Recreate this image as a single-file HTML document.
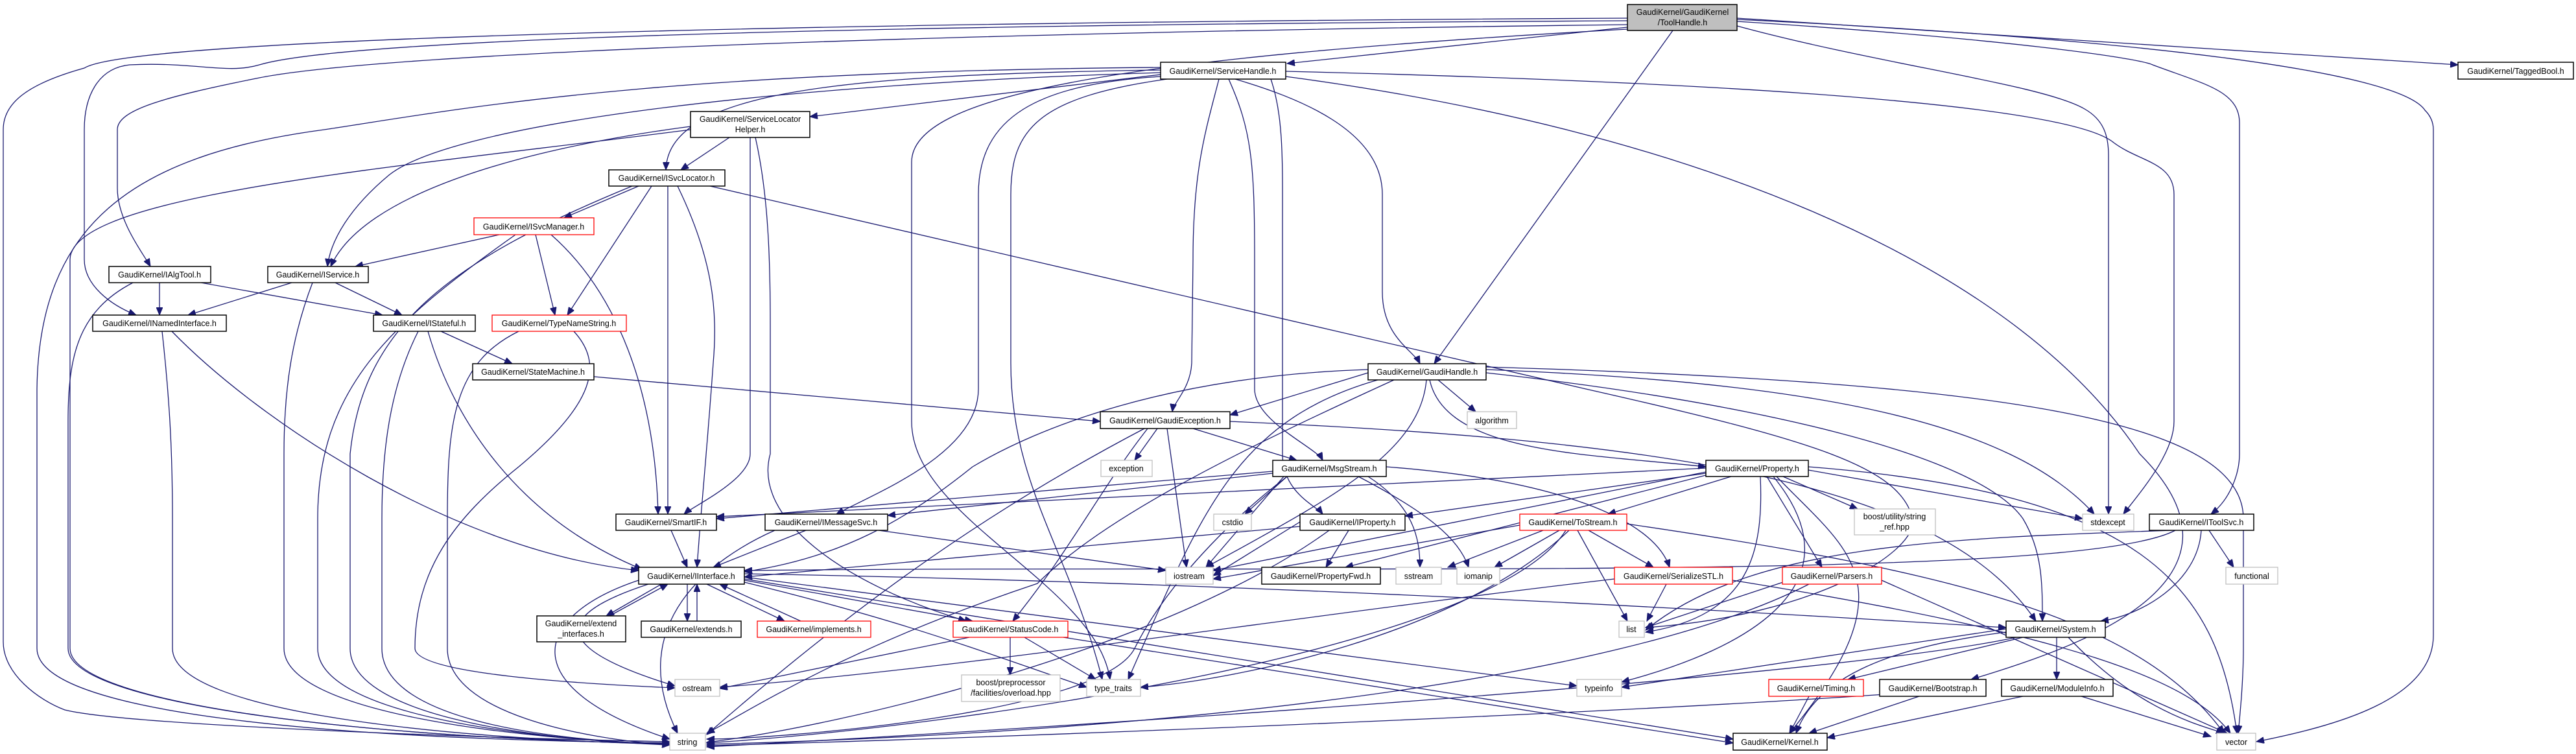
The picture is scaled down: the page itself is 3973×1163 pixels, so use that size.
<!DOCTYPE html>
<html><head><meta charset="utf-8"><style>
html,body{margin:0;padding:0;background:#fff;}
svg{display:block;}
text{font-family:"Liberation Sans",sans-serif;font-size:12.5px;fill:#000;text-anchor:middle;}
.e{fill:none;stroke:#191970;stroke-width:1.3;marker-end:url(#a);}
.b{fill:#fff;stroke:#000;stroke-width:1.5;}
.g{fill:#fff;stroke:#bfbfbf;stroke-width:1.3;}
.r{fill:#fff;stroke:#ff0000;stroke-width:1.3;}
</style></head><body>
<svg width="3973" height="1163" viewBox="0 0 3973 1163" xmlns="http://www.w3.org/2000/svg">
<defs><marker id="a" markerUnits="userSpaceOnUse" markerWidth="13" markerHeight="10" refX="12" refY="5" orient="auto"><path d="M0,0 L12,5 L0,10 z" fill="#191970" stroke="#191970"/></marker></defs>
<g>
<!-- ToolHandle -->
<path class="e" d="M2510,28 C1200,35 200,60 130,105 C40,130 5,160 5,200 L5,990 C5,1040 60,1080 100,1095 C200,1120 800,1140 1033,1144"/>
<path class="e" d="M2510,32 C1000,40 500,70 400,100 C350,115 300,95 200,100 C150,105 130,150 130,200 L130,400 C130,440 170,470 210,486"/>
<path class="e" d="M2510,38 C1500,50 600,80 400,120 C250,150 181,170 181,200 L181,290 C181,340 220,390 232,411"/>
<path class="e" d="M2510,42 L1985,98"/>
<path class="e" d="M2580,47 L2212,561"/>
<path class="e" d="M2679,28 L3791,100"/>
<path class="e" d="M2510,45 C1700,90 1406,150 1406,250 L1406,650 C1406,800 1690,900 1712,1048"/>
<path class="e" d="M2679,30 C3300,60 3700,110 3740,170 C3750,180 3753,190 3753,200 L3753,980 C3753,1080 3600,1120 3480,1144"/>
<path class="e" d="M2679,40 C2900,100 3150,130 3215,168 C3245,185 3252,210 3252,240 L3252,793"/>
<path class="e" d="M2679,33 C3100,60 3300,90 3320,100 C3400,130 3454,140 3454,190 L3454,700 C3454,730 3440,770 3410,793"/>
<!-- ServiceHandle -->
<path class="e" d="M1790,115 L1249,180"/>
<path class="e" d="M1790,108 C1300,115 1030,140 1027,262"/>
<path class="e" d="M1790,112 C1200,130 700,190 600,270 C540,320 510,370 505,411"/>
<path class="e" d="M1790,118 C1600,130 1509,180 1509,300 L1509,600 C1509,700 1350,760 1290,793"/>
<path class="e" d="M1880,122 C1860,200 1840,260 1840,400 L1838,560 C1836,600 1810,620 1808,635"/>
<path class="e" d="M1895,122 C1930,200 1935,250 1935,400 L1935,600 C1935,650 2030,690 2040,710"/>
<path class="e" d="M1905,122 C2000,150 2132,200 2132,300 L2132,450 C2132,520 2180,540 2190,561"/>
<path class="e" d="M1960,122 C1980,180 1978,250 1978,350 L1978,700 C1978,760 2030,780 2040,793"/>
<path class="e" d="M1800,122 C1600,150 1559,200 1559,300 L1559,560 C1559,750 1650,850 1700,1048"/>
<path class="e" d="M1790,104 C1000,110 700,170 500,200 C200,240 60,350 57,600 L57,1000 C57,1100 500,1140 1033,1146"/>
<path class="e" d="M1983,110 C2800,130 3200,170 3260,220 C3300,250 3353,250 3353,300 L3353,650 C3353,700 3300,760 3275,793"/>
<path class="e" d="M1983,118 C2600,200 3100,400 3300,700 C3500,900 3200,1000 3040,1048"/>
<!-- SLH -->
<path class="e" d="M1125,212 L1050,262"/>
<path class="e" d="M1065,195 C800,230 560,300 510,411"/>
<path class="e" d="M1065,200 C600,260 110,300 108,400 L108,1000 C108,1090 600,1140 1033,1147"/>
<path class="e" d="M1157,212 L1157,700 C1157,740 1070,780 1055,793"/>
<path class="e" d="M1165,212 C1185,300 1188,400 1188,500 L1188,700 C1160,800 1300,900 1490,958"/>
<!-- ISvcLocator -->
<path class="e" d="M985,287 L870,336"/>
<path class="e" d="M1005,287 L875,486"/>
<path class="e" d="M1030,287 L1030,793"/>
<path class="e" d="M1045,287 C1100,400 1107,480 1100,560 C1090,700 1080,800 1075,875"/>
<path class="e" d="M975,287 C700,400 560,500 540,700 L540,1000 C540,1100 800,1140 1033,1149"/>
<path class="e" d="M1095,287 L2446,600 C2800,680 2930,720 2950,800 C2960,850 2800,950 2538,968"/>
<!-- ISvcManager -->
<path class="e" d="M770,362 L548,411"/>
<path class="e" d="M826,362 L856,486"/>
<path class="e" d="M850,362 C950,450 1010,600 1015,793"/>
<path class="e" d="M795,362 C600,500 490,600 490,800 L490,1000 C490,1100 800,1140 1033,1148"/>
<!-- IAlgTool / IService -->
<path class="e" d="M246,436 L246,486"/>
<path class="e" d="M310,436 L590,486"/>
<path class="e" d="M205,436 C120,480 105,550 105,650 L105,1000 C105,1090 600,1140 1033,1147"/>
<path class="e" d="M450,436 L290,486"/>
<path class="e" d="M517,436 L620,486"/>
<path class="e" d="M482,436 C450,520 438,600 438,700 L438,1000 C438,1100 800,1140 1033,1148"/>
<!-- INamedInterface / IStateful / TypeNameString -->
<path class="e" d="M265,511 C400,650 700,850 985,880"/>
<path class="e" d="M250,511 C262,620 266,700 266,800 L266,1000 C266,1100 700,1140 1033,1148"/>
<path class="e" d="M680,511 L790,561"/>
<path class="e" d="M660,511 C700,650 800,800 990,878"/>
<path class="e" d="M645,511 C600,600 589,700 589,800 L589,1000 C589,1100 800,1140 1033,1148"/>
<path class="e" d="M800,511 C700,560 690,650 690,800 L690,1000 C690,1100 900,1140 1033,1149"/>
<path class="e" d="M885,511 C930,560 920,620 800,720 C700,800 640,880 640,1000 C640,1040 900,1055 1041,1061"/>
<path class="e" d="M916,581 L1697,650"/>
<!-- GaudiHandle -->
<path class="e" d="M2218,586 L2276,635"/>
<path class="e" d="M2205,586 C2230,700 2450,700 2631,720"/>
<path class="e" d="M2110,575 L1897,640"/>
<path class="e" d="M2110,570 C1800,580 1600,660 1500,720 C1400,800 1300,860 1148,882"/>
<path class="e" d="M2200,586 C2190,700 2050,770 1860,875"/>
<path class="e" d="M2125,586 C1900,650 1850,800 1740,1048"/>
<path class="e" d="M2150,586 C1900,700 1700,800 1600,900 C1300,1000 1150,1100 1090,1131"/>
<path class="e" d="M2292,570 C2800,590 3100,650 3230,793"/>
<path class="e" d="M2292,566 C3100,590 3460,650 3460,800 L3460,1000 C3460,1050 3455,1100 3452,1131"/>
<path class="e" d="M2292,575 C2700,620 3050,700 3120,800 C3150,850 3150,900 3150,958"/>
<!-- GaudiException -->
<path class="e" d="M1785,661 L1750,710"/>
<path class="e" d="M1800,661 L1830,875"/>
<path class="e" d="M1770,661 C1700,750 1650,850 1562,958"/>
<path class="e" d="M1765,661 C1500,800 1300,950 1090,1133"/>
<path class="e" d="M1840,661 L2000,710"/>
<path class="e" d="M1897,650 C2600,680 3000,750 3140,958"/>
<!-- MsgStream -->
<path class="e" d="M1963,727 L1105,800"/>
<path class="e" d="M1963,730 L1369,795"/>
<path class="e" d="M1985,735 L1920,793"/>
<path class="e" d="M2110,735 C2180,780 2190,830 2190,875"/>
<path class="e" d="M2095,735 C2200,790 2250,830 2265,875"/>
<path class="e" d="M2138,720 C2400,740 2550,800 2575,875"/>
<path class="e" d="M1985,735 C1900,800 1800,900 1750,1000 C1700,1100 1200,1140 1090,1140"/>
<path class="e" d="M1980,735 L1860,875"/>
<!-- Property -->
<path class="e" d="M2631,730 L2167,796"/>
<path class="e" d="M2631,733 L2075,875"/>
<path class="e" d="M2670,735 L2480,793"/>
<path class="e" d="M2750,735 L2865,785"/>
<path class="e" d="M2725,735 L2810,875"/>
<path class="e" d="M2715,735 C2720,850 2700,950 2538,975"/>
<path class="e" d="M2789,725 L3212,800"/>
<path class="e" d="M2740,735 C2850,850 2950,900 2760,1131"/>
<path class="e" d="M2789,720 C3300,760 3420,900 3450,1131"/>
<path class="e" d="M2735,735 C2870,900 2700,1000 2501,1052"/>
<path class="e" d="M2631,722 L1105,797"/>
<path class="e" d="M2631,728 L1871,880"/>
<!-- IMessageSvc / SmartIF / IProperty -->
<path class="e" d="M1243,818 L1100,875"/>
<path class="e" d="M1355,818 L1798,880"/>
<path class="e" d="M1195,818 C1100,860 960,960 1045,1131"/>
<path class="e" d="M1035,818 L1060,875"/>
<path class="e" d="M2005,812 L1148,890"/>
<path class="e" d="M2080,818 L2045,875"/>
<path class="e" d="M2005,805 L1871,888"/>
<path class="e" d="M2050,818 C1800,1000 1300,1120 1090,1145"/>
<!-- ToStream -->
<path class="e" d="M2380,818 L2233,875"/>
<path class="e" d="M2405,818 L2305,875"/>
<path class="e" d="M2450,818 L2550,875"/>
<path class="e" d="M2433,818 L2510,958"/>
<path class="e" d="M2344,810 L1871,893"/>
<path class="e" d="M2415,818 C2300,1000 1500,1120 1090,1146"/>
<path class="e" d="M2420,818 C2250,980 1900,1050 1759,1060"/>
<path class="e" d="M2509,808 C3000,880 3300,950 3430,1131"/>
<!-- SerializeSTL / Parsers -->
<path class="e" d="M2570,901 L2540,958"/>
<path class="e" d="M2490,893 C2000,950 1500,1030 1110,1060"/>
<path class="e" d="M2672,895 C3200,980 3380,1050 3440,1131"/>
<path class="e" d="M2750,898 L2538,968"/>
<path class="e" d="M2790,901 C2500,1050 1800,1130 1090,1148"/>
<path class="e" d="M2902,895 L3435,1131"/>
<!-- IToolSvc -->
<path class="e" d="M3407,818 L3445,875"/>
<path class="e" d="M3395,818 C3390,900 3300,950 3240,958"/>
<path class="e" d="M3350,818 C3000,830 2700,840 2538,972"/>
<path class="e" d="M3355,818 C3200,900 2000,870 1148,880"/>
<!-- Interface -->
<path class="e" d="M1020,901 L935,950"/>
<path class="e" d="M1060,901 L1060,958"/>
<path class="e" d="M1090,901 L1210,958"/>
<path class="e" d="M1148,895 L1500,958"/>
<path class="e" d="M1000,901 C850,950 850,1000 1041,1058"/>
<path class="e" d="M985,895 C820,950 790,1060 1033,1140"/>
<path class="e" d="M1148,898 C1400,960 1500,1000 1676,1060"/>
<path class="e" d="M1148,890 L2432,1058"/>
<path class="e" d="M1148,885 C2000,900 2800,950 3094,968"/>
<path class="e" d="M1148,893 L2673,1140"/>
<path class="e" d="M940,950 L1030,901"/>
<path class="e" d="M1075,958 L1075,901"/>
<path class="e" d="M1235,958 L1110,901"/>
<!-- StatusCode -->
<path class="e" d="M1495,983 L1110,1062"/>
<path class="e" d="M1558,983 L1558,1041"/>
<path class="e" d="M1580,983 L1690,1048"/>
<path class="e" d="M1640,983 L2673,1146"/>
<!-- System etc -->
<path class="e" d="M3094,975 C2900,1000 2800,1050 2770,1131"/>
<path class="e" d="M3094,970 L2501,1060"/>
<path class="e" d="M3110,983 C2800,1050 1500,1130 1090,1152"/>
<path class="e" d="M3190,983 C3300,1100 3400,1120 3430,1131"/>
<path class="e" d="M3120,983 L2850,1048"/>
<path class="e" d="M3172,983 L3172,1048"/>
<path class="e" d="M2790,1074 L2760,1131"/>
<path class="e" d="M2960,1074 L2790,1131"/>
<path class="e" d="M2920,1070 C2500,1100 1500,1140 1090,1150"/>
<path class="e" d="M3120,1074 L2818,1138"/>
<path class="e" d="M3210,1074 L3410,1136"/>
</g>
<g>
<rect x="2510" y="7" width="169" height="40" fill="#bfbfbf" stroke="#000" stroke-width="1.5"/>
<text x="2595" y="23">GaudiKernel/GaudiKernel</text><text x="2595" y="39">/ToolHandle.h</text>

<rect class="b" x="1790" y="96" width="193" height="26"/><text x="1886" y="114">GaudiKernel/ServiceHandle.h</text>
<rect class="b" x="3791" y="96" width="178" height="26"/><text x="3880" y="114">GaudiKernel/TaggedBool.h</text>
<rect class="b" x="1065" y="172" width="184" height="40"/><text x="1157" y="188">GaudiKernel/ServiceLocator</text><text x="1157" y="204">Helper.h</text>
<rect class="b" x="939" y="262" width="179" height="25"/><text x="1028" y="279">GaudiKernel/ISvcLocator.h</text>
<rect class="r" x="731" y="336" width="185" height="26"/><text x="823" y="354">GaudiKernel/ISvcManager.h</text>
<rect class="b" x="168" y="411" width="157" height="25"/><text x="246" y="428">GaudiKernel/IAlgTool.h</text>
<rect class="b" x="413" y="411" width="155" height="25"/><text x="490" y="428">GaudiKernel/IService.h</text>
<rect class="b" x="143" y="486" width="206" height="25"/><text x="246" y="503">GaudiKernel/INamedInterface.h</text>
<rect class="b" x="576" y="486" width="157" height="25"/><text x="654" y="503">GaudiKernel/IStateful.h</text>
<rect class="r" x="759" y="486" width="207" height="25"/><text x="862" y="503">GaudiKernel/TypeNameString.h</text>
<rect class="b" x="729" y="561" width="187" height="25"/><text x="822" y="578">GaudiKernel/StateMachine.h</text>
<rect class="b" x="2110" y="561" width="182" height="25"/><text x="2201" y="578">GaudiKernel/GaudiHandle.h</text>
<rect class="b" x="1697" y="635" width="200" height="26"/><text x="1797" y="653">GaudiKernel/GaudiException.h</text>
<rect class="g" x="2263" y="635" width="76" height="26"/><text x="2301" y="653">algorithm</text>
<rect class="g" x="1698" y="710" width="79" height="25"/><text x="1737" y="727">exception</text>
<rect class="b" x="1963" y="710" width="175" height="25"/><text x="2050" y="727">GaudiKernel/MsgStream.h</text>
<rect class="b" x="2631" y="710" width="158" height="25"/><text x="2710" y="727">GaudiKernel/Property.h</text>
<rect class="b" x="950" y="793" width="155" height="25"/><text x="1027" y="810">GaudiKernel/SmartIF.h</text>
<rect class="b" x="1180" y="793" width="189" height="25"/><text x="1274" y="810">GaudiKernel/IMessageSvc.h</text>
<rect class="g" x="1872" y="793" width="58" height="25"/><text x="1901" y="810">cstdio</text>
<rect class="b" x="2005" y="793" width="162" height="25"/><text x="2086" y="810">GaudiKernel/IProperty.h</text>
<rect class="r" x="2344" y="793" width="165" height="25"/><text x="2426" y="810">GaudiKernel/ToStream.h</text>
<rect class="g" x="2860" y="785" width="125" height="40"/><text x="2922" y="801">boost/utility/string</text><text x="2922" y="817">_ref.hpp</text>
<rect class="g" x="3212" y="793" width="79" height="25"/><text x="3251" y="810">stdexcept</text>
<rect class="b" x="3315" y="793" width="161" height="25"/><text x="3395" y="810">GaudiKernel/IToolSvc.h</text>
<rect class="b" x="985" y="875" width="163" height="26"/><text x="1066" y="893">GaudiKernel/IInterface.h</text>
<rect class="g" x="1798" y="875" width="73" height="26"/><text x="1834" y="893">iostream</text>
<rect class="b" x="1946" y="875" width="183" height="26"/><text x="2037" y="893">GaudiKernel/PropertyFwd.h</text>
<rect class="g" x="2153" y="875" width="70" height="26"/><text x="2188" y="893">sstream</text>
<rect class="g" x="2247" y="875" width="66" height="26"/><text x="2280" y="893">iomanip</text>
<rect class="r" x="2490" y="875" width="182" height="26"/><text x="2581" y="893">GaudiKernel/SerializeSTL.h</text>
<rect class="r" x="2749" y="875" width="153" height="26"/><text x="2825" y="893">GaudiKernel/Parsers.h</text>
<rect class="g" x="3433" y="875" width="80" height="26"/><text x="3473" y="893">functional</text>
<rect class="b" x="828" y="950" width="137" height="40"/><text x="896" y="966">GaudiKernel/extend</text><text x="896" y="982">_interfaces.h</text>
<rect class="b" x="989" y="958" width="154" height="25"/><text x="1066" y="975">GaudiKernel/extends.h</text>
<rect class="r" x="1168" y="958" width="175" height="25"/><text x="1255" y="975">GaudiKernel/implements.h</text>
<rect class="r" x="1470" y="958" width="177" height="25"/><text x="1558" y="975">GaudiKernel/StatusCode.h</text>
<rect class="g" x="2497" y="958" width="39" height="25"/><text x="2516" y="975">list</text>
<rect class="b" x="3094" y="958" width="153" height="25"/><text x="3170" y="975">GaudiKernel/System.h</text>
<rect class="g" x="1041" y="1048" width="69" height="26"/><text x="1075" y="1066">ostream</text>
<rect class="g" x="1483" y="1041" width="152" height="41"/><text x="1559" y="1057">boost/preprocessor</text><text x="1559" y="1073">/facilities/overload.hpp</text>
<rect class="g" x="1676" y="1048" width="83" height="26"/><text x="1717" y="1066">type_traits</text>
<rect class="g" x="2432" y="1048" width="69" height="26"/><text x="2466" y="1066">typeinfo</text>
<rect class="r" x="2728" y="1048" width="146" height="26"/><text x="2801" y="1066">GaudiKernel/Timing.h</text>
<rect class="b" x="2899" y="1048" width="164" height="26"/><text x="2981" y="1066">GaudiKernel/Bootstrap.h</text>
<rect class="b" x="3087" y="1048" width="172" height="26"/><text x="3173" y="1066">GaudiKernel/ModuleInfo.h</text>
<rect class="g" x="1033" y="1131" width="55" height="26"/><text x="1060" y="1149">string</text>
<rect class="b" x="2673" y="1131" width="145" height="26"/><text x="2745" y="1149">GaudiKernel/Kernel.h</text>
<rect class="g" x="3419" y="1131" width="60" height="26"/><text x="3449" y="1149">vector</text>
</g>
</svg>
</body></html>
